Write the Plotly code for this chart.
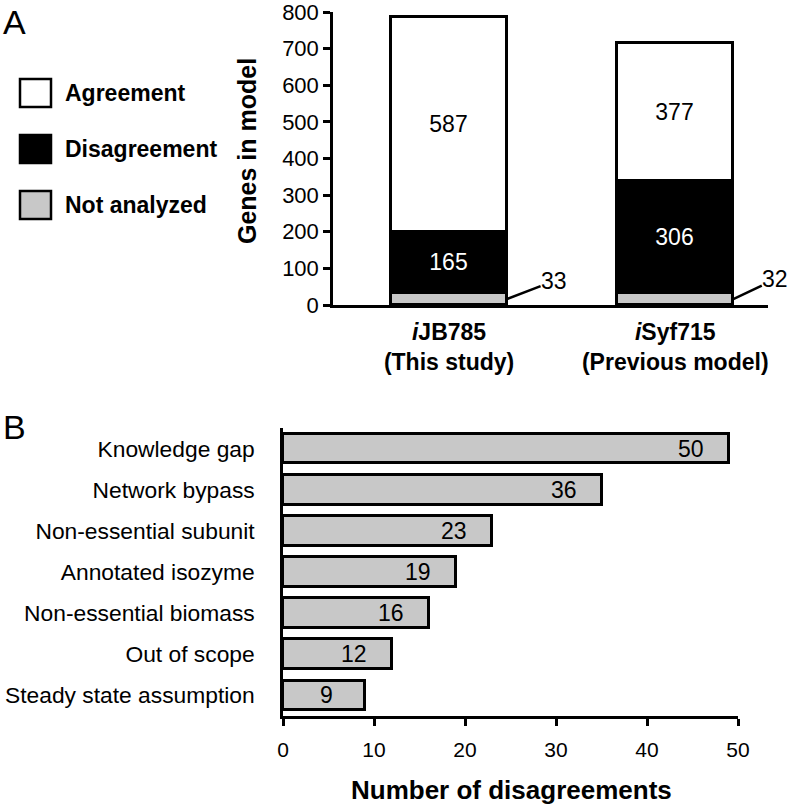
import plotly.graph_objects as go

# ---------------- Data ----------------
# Panel A
models = ["iJB785", "iSyf715"]
model_tick_labels = ["<b><i>i</i>JB785</b><br><b>(This study)</b>",
                     "<b><i>i</i>Syf715</b><br><b>(Previous model)</b>"]
not_analyzed = [33, 32]
disagreement = [165, 306]
agreement = [587, 377]
series_names = ["Agreement", "Disagreement", "Not analyzed"]

# Panel B
reasons = ["Knowledge gap", "Network bypass", "Non-essential subunit",
           "Annotated isozyme", "Non-essential biomass", "Out of scope",
           "Steady state assumption"]
bar_lengths = [49, 35, 23, 19, 16, 12, 9]      # as drawn
reason_labels = [50, 36, 23, 19, 16, 12, 9]    # as printed

FONT = "Liberation Sans, Arial, sans-serif"
W, H = 796, 809
GRAY = "#c8c8c8"

def px(x):
    return x / W

def py(y):
    return 1 - y / H

fig = go.Figure()

bar_w = 0.513
xpos = list(range(len(models)))

fig.add_trace(go.Bar(x=xpos, y=not_analyzed, width=bar_w, name=series_names[2],
                     marker=dict(color=GRAY, line=dict(color="black", width=3)),
                     xaxis="x", yaxis="y", showlegend=False))
fig.add_trace(go.Bar(x=xpos, y=disagreement, width=bar_w, name=series_names[1],
                     marker=dict(color="black", line=dict(color="black", width=3)),
                     text=[str(v) for v in disagreement], textposition="inside",
                     insidetextanchor="middle",
                     textfont=dict(color="white", size=23, family=FONT),
                     xaxis="x", yaxis="y", showlegend=False))
fig.add_trace(go.Bar(x=xpos, y=agreement, width=bar_w, name=series_names[0],
                     marker=dict(color="white", line=dict(color="black", width=3)),
                     text=[str(v) for v in agreement], textposition="inside",
                     insidetextanchor="middle",
                     textfont=dict(color="black", size=23, family=FONT),
                     xaxis="x", yaxis="y", showlegend=False))

fig.add_trace(go.Bar(y=reasons, x=bar_lengths, orientation="h", width=0.72,
                     marker=dict(color=GRAY, line=dict(color="black", width=3)),
                     xaxis="x2", yaxis="y2", showlegend=False))

annotations = []
shapes = []

# Not analyzed leader-line labels
offsets = [(47, -18), (42, -20)]
for i, v in enumerate(not_analyzed):
    annotations.append(dict(
        x=xpos[i] + bar_w / 2, y=v / 2, xref="x", yref="y",
        text=str(v), showarrow=True, arrowhead=0, arrowwidth=2.5,
        arrowcolor="black", ax=offsets[i][0], ay=offsets[i][1],
        borderpad=0, standoff=0,
        font=dict(size=23, color="black", family=FONT)))

# Panel B value labels
for r, L, lab in zip(reasons, bar_lengths, reason_labels):
    annotations.append(dict(
        x=L, y=r, xref="x2", yref="y2", text=str(lab), showarrow=False,
        xanchor="center", xshift=-38,
        font=dict(size=23, color="black", family=FONT)))

# Legend (manual)
legend_fill = ["white", "black", GRAY]
legend_y = [93, 149, 205]
for name, fill, yc in zip(series_names, legend_fill, legend_y):
    shapes.append(dict(type="rect", xref="paper", yref="paper",
                       x0=px(20), x1=px(51), y0=py(yc - 14), y1=py(yc + 14),
                       fillcolor=fill, line=dict(color="black", width=2.5)))
    annotations.append(dict(x=px(63), y=py(yc), xref="paper", yref="paper",
                            text=f"<b>{name}</b>", showarrow=False,
                            xanchor="left", yanchor="middle",
                            font=dict(size=23, color="black", family=FONT)))

# Panel letters
annotations.append(dict(x=px(1), y=py(22), xref="paper", yref="paper", text="A",
                        showarrow=False, xanchor="left", yanchor="middle",
                        font=dict(size=34, color="black", family=FONT)))
annotations.append(dict(x=px(1), y=py(427), xref="paper", yref="paper", text="B",
                        showarrow=False, xanchor="left", yanchor="middle",
                        font=dict(size=34, color="black", family=FONT)))

# Axis titles
annotations.append(dict(x=px(247), y=py(151), xref="paper", yref="paper",
                        text="<b>Genes in model</b>", textangle=-90, showarrow=False,
                        xanchor="center", yanchor="middle",
                        font=dict(size=25, color="black", family=FONT)))
annotations.append(dict(x=px(511), y=py(790), xref="paper", yref="paper",
                        text="<b>Number of disagreements</b>", showarrow=False,
                        xanchor="center", yanchor="middle",
                        font=dict(size=26, color="black", family=FONT)))

fig.update_layout(
    width=W, height=H,
    margin=dict(l=0, r=0, t=0, b=0, autoexpand=False),
    paper_bgcolor="white", plot_bgcolor="white",
    barmode="stack",
    font=dict(family=FONT, color="black"),
    xaxis=dict(domain=[px(333), px(768)], range=[-0.513, 1.41],
               tickmode="array", tickvals=xpos, ticktext=model_tick_labels,
               tickfont=dict(size=23, family=FONT, color="black"),
               showline=True, linecolor="black", linewidth=2.5,
               ticks="", showgrid=False, zeroline=False, automargin=False,
               ticklabelstandoff=5, anchor="y"),
    yaxis=dict(domain=[py(305), py(12)], range=[0, 800], dtick=100,
               tickfont=dict(size=22, family=FONT, color="black"),
               showline=True, linecolor="black", linewidth=2.5,
               ticks="outside", ticklen=7, tickwidth=2.5, tickcolor="black",
               showgrid=False, zeroline=False, anchor="x", automargin=False,
               ticklabeloverflow="allow"),
    xaxis2=dict(domain=[px(283), px(738)], range=[0, 50], dtick=10,
                tickfont=dict(size=21, family=FONT, color="black"),
                showline=True, linecolor="black", linewidth=2.5,
                ticks="outside", ticklen=7, tickwidth=2.5, tickcolor="black",
                showgrid=False, zeroline=False, anchor="y2", automargin=False,
                ticklabelstandoff=6, ticklabeloverflow="allow"),
    yaxis2=dict(domain=[py(716), py(428)], range=[6.5, -0.5],
                type="category",
                tickfont=dict(size=22.8, family=FONT, color="black"),
                showline=True, linecolor="black", linewidth=2.5,
                ticks="", showgrid=False, zeroline=False, anchor="x2",
                automargin=False, ticklabelstandoff=21,
                ticklabeloverflow="allow"),
    annotations=annotations,
    shapes=shapes,
    bargap=0,
)

fig.write_html("out.html",
               config={"displayModeBar": False},
               post_script="document.body.style.margin='0px';document.body.style.overflow='hidden';")
